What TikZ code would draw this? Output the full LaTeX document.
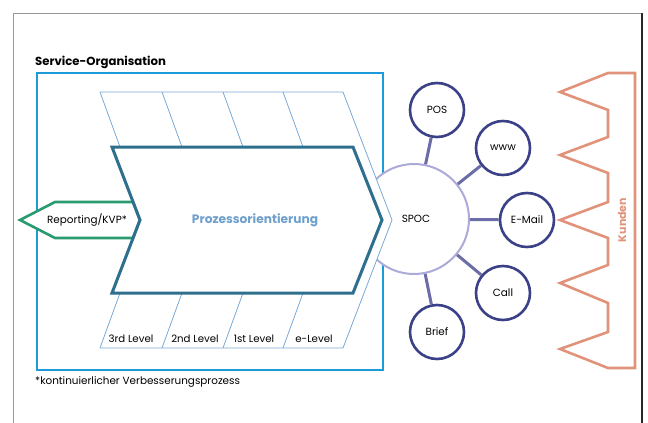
\documentclass[tikz,border=0pt]{standalone}
\usepackage{fontspec}
\setmainfont{Poppins}
\usetikzlibrary{positioning}
\definecolor{orgblue}{HTML}{1B9BD7}
\definecolor{bandblue}{HTML}{7AA9D6}
\definecolor{procteal}{HTML}{2E6F8E}
\definecolor{proctext}{HTML}{6F9FCB}
\definecolor{repgreen}{HTML}{2A9A70}
\definecolor{hubline}{HTML}{ABAAD8}
\definecolor{lnkcol}{HTML}{6C6CA8}
\definecolor{satblue}{HTML}{3A4187}
\definecolor{kdsalmon}{HTML}{E0937A}

\begin{document}
\begin{tikzpicture}
[x=1pt,y=-1pt
,txt/.style={inner sep=0pt,font=\fontsize{10.4}{12}\selectfont}
,sat/.style={circle,draw=satblue,line width=2.6pt,minimum size=54pt,inner sep=0pt,fill=white,txt}
,hub/.style={circle,draw=hubline,line width=2pt,minimum size=110pt,inner sep=0pt,fill=white,txt}
,lnk/.style={draw=lnkcol,line width=3pt}
,band/.style={draw=bandblue,line width=0.8pt}
,lvl/.style={txt,font=\fontsize{10.2}{12}\selectfont}]
\useasboundingbox (0,0) rectangle (648,423);
% frame
\draw[gray!80,line width=1pt] (13,423) -- (13,13) -- (642,13);
\draw[black!85,line width=1.2pt] (642,13) -- (642,423);
% service organisation
\node[txt,anchor=west,font=\fontsize{11.7}{13}\selectfont\bfseries] (title) at (35,62) {Service-Organisation};
\draw[orgblue,line width=2.6pt] (37,73) rectangle (383,370);
\node[txt,anchor=west] (note) at (35,382) {*kontinuierlicher Verbesserungsprozess};
% spoc and channels
\node[hub] (spoc) at (414,219) {\hspace*{4pt}SPOC};
\node[sat] (pos) at (437,110) {POS};
\node[sat] (www) at (503,148) {www};
\node[sat] (mail) at (527,220) {E-Mail};
\node[sat] (call) at (503,293) {Call};
\node[sat] (brief) at (437,332) {Brief};
\draw[lnk] (spoc) -- (pos);
\draw[lnk] (spoc) -- (www);
\draw[lnk] (spoc) -- (mail);
\draw[lnk] (spoc) -- (call);
\draw[lnk] (spoc) -- (brief);
% levels
\fill[white] (100,92) -- (343,92) -- (392,220) -- (343,348) -- (100,348) -- cycle;
\draw[band] (100,92) -- (343,92) -- (392,220) -- (343,348) -- (100,348);
\draw[band] (100,92) -- (120,147);
\draw[band] (162,92) -- (182,147);
\draw[band] (223,92) -- (243,147);
\draw[band] (283,92) -- (303,147);
\draw[band] (100,348) -- (120,293);
\draw[band] (162,348) -- (182,293);
\draw[band] (223,348) -- (243,293);
\draw[band] (283,348) -- (303,293);
\node[lvl] (l3) at (131,339) {3rd Level};
\node[lvl] (l2) at (195,339) {2nd Level};
\node[lvl] (l1) at (254,339) {1st Level};
\node[lvl] (le) at (314,339) {e-Level};
% reporting
\draw[repgreen,line width=2.6pt,fill=white,line join=miter]
  (20,220) -- (55,202) -- (133,202) -- (140,220) -- (133,238) -- (55,238) -- cycle;
\node[txt] (rep) at (87,220) {Reporting/KVP*};
% process
\draw[procteal,line width=3pt,fill=white]
  (112,147) -- (353,147) -- (382,220) -- (353,293) -- (112,293) -- (140,220) -- cycle;
\node[txt,font=\fontsize{12.2}{14}\selectfont\bfseries,text=proctext] (proc) at (255,220) {Prozessorientierung};
% kunden
\draw[kdsalmon,line width=2.6pt]
  (635,73) -- (608,73) -- (560,92) -- (608,110) -- (608,137)
  -- (560,155) -- (608,173) -- (608,202)
  -- (560,220) -- (608,238) -- (608,265)
  -- (560,283) -- (608,303) -- (608,332)
  -- (560,349) -- (608,368) -- (635,368) -- cycle;
\node[txt,rotate=90,font=\fontsize{11}{13}\selectfont\bfseries,text=kdsalmon] (kd) at (622,220) {Kunden};
\end{tikzpicture}
\end{document}
